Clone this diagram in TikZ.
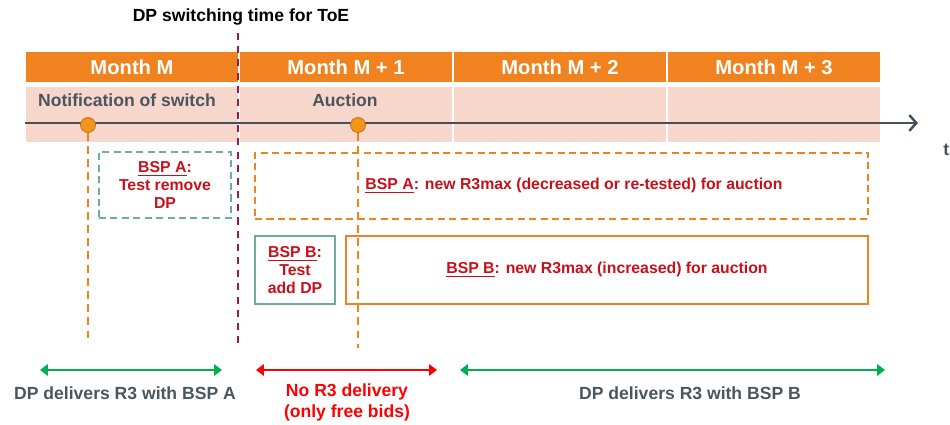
\documentclass[tikz,border=0pt]{standalone}
\usepackage{fontspec}
\setmainfont{Liberation Sans}
\definecolor{toeorange}{RGB}{240,131,31}
\definecolor{toepink}{RGB}{247,215,203}
\definecolor{toegray}{RGB}{75,85,95}
\definecolor{toeline}{RGB}{70,80,88}
\definecolor{toered}{RGB}{200,16,26}
\definecolor{toebright}{RGB}{255,0,0}
\definecolor{toeteal}{RGB}{110,172,162}
\definecolor{toemaroon}{RGB}{160,25,75}
\definecolor{toegreen}{RGB}{0,176,80}
\usetikzlibrary{arrows.meta,positioning}

\begin{document}
\begin{tikzpicture}[x=0.02cm,y=-0.02cm,
  month/.style={fill=toeorange,draw=white,line width=1.5pt,minimum width=4.28cm,minimum height=0.66cm,
    text=white,font=\fontsize{11.5}{13}\selectfont\bfseries},
  band/.style={fill=toepink,draw=white,line width=1.5pt,minimum width=4.28cm,minimum height=1.16cm},
  bandtxt/.style={text=toegray,font=\fontsize{10}{12}\selectfont\bfseries},
  evdot/.style={circle,fill=toeorange!85!yellow,draw=toeorange!80!black,line width=0.4pt,
    minimum size=0.3cm,inner sep=0pt},
  drop/.style={toeorange,line width=1.4pt,dash pattern=on 4.5pt off 3pt},
  testbox/.style={draw=toeteal,line width=1.2pt,align=center,text=toered,
    font=\fontsize{9}{10}\selectfont\bfseries},
  r3box/.style={draw=toeorange,line width=1.2pt,align=center,text=toered,
    font=\fontsize{9}{10}\selectfont\bfseries},
  dashbox/.style={dash pattern=on 4pt off 2.5pt},
  span/.style={{Triangle[length=4.5pt,width=6.5pt]}-{Triangle[length=4.5pt,width=6.5pt]},line width=1.3pt},
  spantxt/.style={font=\fontsize{10}{12}\selectfont\bfseries,align=center}
]
  \useasboundingbox (0,0) rectangle (950,425);
  % Title
  \node[font=\fontsize{10}{12}\selectfont\bfseries] (title) at (241,17) {DP switching time for ToE};
  % Months
  \node[month] (m0) at (132,67) {Month M};
  \node[month] (m1) at (346,67) {Month M + 1};
  \node[month] (m2) at (560,67) {Month M + 2};
  \node[month] (m3) at (774,67) {Month M + 3};
  \node[band] (b0) at (132,114.5) {};
  \node[band] (b1) at (346,114.5) {};
  \node[band] (b2) at (560,114.5) {};
  \node[band] (b3) at (774,114.5) {};
  \node[bandtxt] (notiftxt) at (127,100) {Notification of switch};
  \node[bandtxt] (auctxt) at (345,100) {Auction};
  % Time axis
  \coordinate (tstart) at (25,123);
  \coordinate (tend) at (918,123);
  \draw[-{Straight Barb[length=4pt,width=9pt]},toeline,line width=1.4pt] (tstart) -- (tend);
  \node[font=\fontsize{10}{12}\selectfont\bfseries,text=toeline,anchor=west,inner sep=0pt] (tlabel) at (943,150) {t};
  % Switching time
  \coordinate (swtop) at (238,33);
  \coordinate (swbot) at (238,345);
  \draw[toemaroon,line width=1.5pt,dash pattern=on 4pt off 3.5pt] (swtop) -- (swbot);
  % Events
  \node[evdot] (notif) at (88,125) {};
  \node[evdot] (auc) at (358,125) {};
  \coordinate (notifend) at (88,340);
  \coordinate (aucend) at (358,348);
  \draw[drop] (notif) -- (notifend);
  \draw[drop] (auc) -- (aucend);
  % BSP boxes
  \node[testbox,dashbox,minimum width=2.64cm,minimum height=1.32cm] (tsta) at (165,185)
    {\underline{BSP A}:\\Test remove\\DP};
  \node[r3box,dashbox,minimum width=12.26cm,minimum height=1.32cm] (newa) at (561.5,186)
    {\hspace*{0.5cm}\underline{BSP A}: new R3max (decreased or re-tested) for auction};
  \node[testbox,minimum width=1.6cm,minimum height=1.36cm] (tstb) at (295,270)
    {\underline{BSP B}:\\Test\\add DP};
  \node[r3box,minimum width=10.44cm,minimum height=1.36cm] (newb) at (607,270)
    {\underline{BSP B}: new R3max (increased) for auction};
  % Delivery periods
  \coordinate (pa1) at (40,370);
  \coordinate (pa2) at (222,370);
  \coordinate (pn1) at (256,370);
  \coordinate (pn2) at (437,370);
  \coordinate (pb1) at (460,370);
  \coordinate (pb2) at (885,370);
  \draw[span,toegreen] (pa1) -- (pa2);
  \draw[span,toebright] (pn1) -- (pn2);
  \draw[span,toegreen] (pb1) -- (pb2);
  \node[spantxt,text=toegray] (dela) at (125,393) {DP delivers R3 with BSP A};
  \node[spantxt,text=toebright] (nodel) at (347,402) {No R3 delivery\\(only free bids)};
  \node[spantxt,text=toegray] (delb) at (690,393) {DP delivers R3 with BSP B};
\end{tikzpicture}
\end{document}
